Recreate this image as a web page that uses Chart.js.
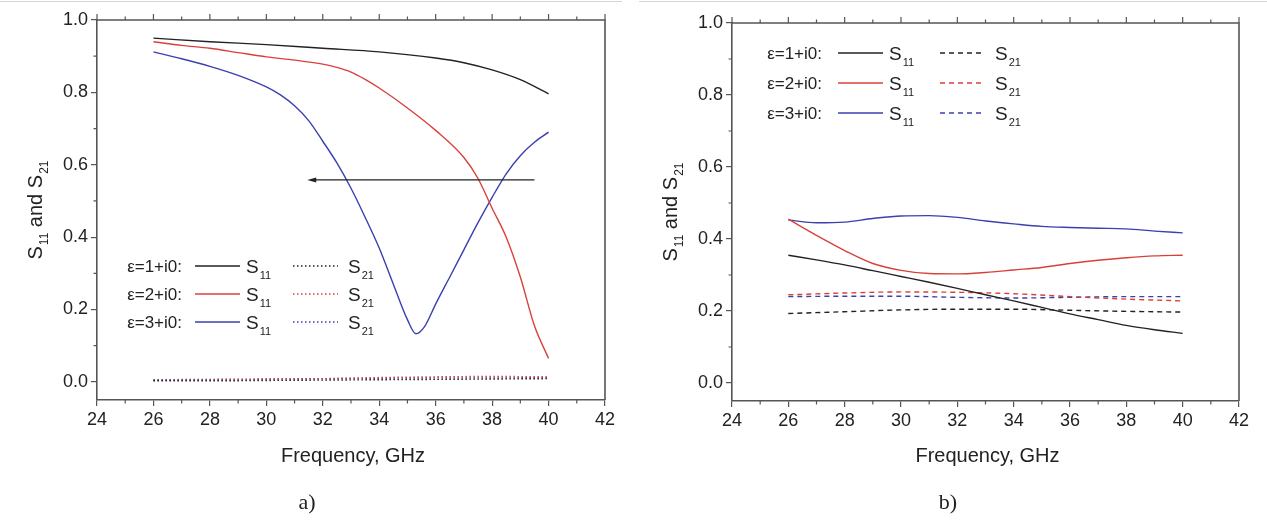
<!DOCTYPE html>
<html>
<head>
<meta charset="utf-8">
<script src="https://cdn.jsdelivr.net/npm/chart.js@4.4.0/dist/chart.umd.min.js"></script>
<style>
html, body { margin: 0; padding: 0; background: #fff; }
body { width: 1267px; height: 523px; position: relative; overflow: hidden; }
.panel { position: absolute; top: 0; height: 523px; }
#pa { left: 0; width: 630px; }
#pb { left: 630px; width: 637px; }
.rule { position: absolute; top: 1px; height: 1px; background: #d6d6d6; }
</style>
</head>
<body>
<div class="rule" style="left:0;width:622px"></div>
<div class="rule" style="left:639px;width:628px"></div>
<div class="panel" id="pa"><canvas id="chartA" width="630" height="523"></canvas></div>
<div class="panel" id="pb"><canvas id="chartB" width="637" height="523"></canvas></div>
<script>
// ---- data ----
const xTicks = [24, 26, 28, 30, 32, 34, 36, 38, 40, 42];
const yTicks = [0.0, 0.2, 0.4, 0.6, 0.8, 1.0];
const legendLabels = ['\u03b5=1+i0:', '\u03b5=2+i0:', '\u03b5=3+i0:'];

// panel a) - S11
const freqA1 = [26, 28, 30, 32, 34, 36, 37, 38, 39, 40];
const s11A1 = [0.95, 0.94, 0.932, 0.922, 0.912, 0.895, 0.882, 0.862, 0.835, 0.796];
const freqA2 = [26, 27, 28, 29, 30, 31, 32, 32.5, 33, 33.5, 34, 35, 36, 37, 37.5, 38, 38.5, 39, 39.5, 40];
const s11A2 = [0.94, 0.93, 0.922, 0.91, 0.898, 0.889, 0.878, 0.869, 0.856, 0.836, 0.812, 0.757, 0.695, 0.62, 0.562, 0.48, 0.40, 0.29, 0.155, 0.065];
const freqA3 = [26, 27, 28, 29, 30, 30.5, 31, 31.5, 32, 32.5, 33, 33.5, 34, 34.5, 35, 35.3, 35.6, 36, 36.5, 37, 37.5, 38, 38.5, 39, 39.5, 40];
const s11A3 = [0.912, 0.893, 0.872, 0.847, 0.815, 0.793, 0.763, 0.722, 0.665, 0.605, 0.535, 0.455, 0.37, 0.27, 0.172, 0.133, 0.152, 0.215, 0.29, 0.365, 0.44, 0.51, 0.575, 0.625, 0.662, 0.69];
// panel a) - S21
const freqS21 = [26, 28, 30, 32, 34, 36, 38, 40];
const s21A1 = [0.003, 0.003, 0.004, 0.005, 0.006, 0.007, 0.008, 0.009];
const s21A2 = [0.004, 0.005, 0.007, 0.009, 0.012, 0.014, 0.015, 0.014];
const s21A3 = [0.006, 0.007, 0.008, 0.009, 0.010, 0.011, 0.011, 0.012];
const arrowFrom = [39.5, 0.558];
const arrowTo = [31.45, 0.558];

// panel b)
const freqB = [26, 27, 28, 29, 30, 31, 32, 33, 34, 35, 36, 37, 38, 39, 40];
const s11B1 = [0.355, 0.342, 0.328, 0.312, 0.296, 0.28, 0.263, 0.245, 0.228, 0.21, 0.192, 0.176, 0.16, 0.148, 0.138];
const s11B2 = [0.455, 0.41, 0.368, 0.332, 0.313, 0.304, 0.303, 0.307, 0.314, 0.321, 0.332, 0.341, 0.348, 0.353, 0.355];
const s11B3 = [0.453, 0.445, 0.447, 0.457, 0.464, 0.465, 0.46, 0.45, 0.442, 0.435, 0.432, 0.43, 0.428, 0.422, 0.417];
const s21B1 = [0.193, 0.198, 0.203, 0.205, 0.205, 0.202, 0.199, 0.197];
const s21B2 = [0.245, 0.25, 0.253, 0.252, 0.248, 0.24, 0.233, 0.228];
const s21B3 = [0.24, 0.241, 0.241, 0.238, 0.236, 0.238, 0.24, 0.24];

// ---- styling ----
const colors = ['#222222', '#d9403c', '#3b3fb0'];
const axisColor = '#555';
const textColor = '#222';
const sans = "'Liberation Sans', Arial, sans-serif";

const pts = (xs, ys) => xs.map((x, i) => ({ x: x, y: ys[i] }));

function line(xs, ys, color, dash) {
    return {
        data: pts(xs, ys),
        showLine: true,
        borderColor: color,
        borderWidth: 1.4,
        borderDash: dash || [],
        pointRadius: 0,
        cubicInterpolationMode: 'monotone',
        fill: false
    };
}

function subText(ctx, main, sub, x, y) {
    ctx.font = '19px ' + sans;
    ctx.textAlign = 'left';
    ctx.fillText(main, x, y);
    const w = ctx.measureText(main).width;
    ctx.font = '11px ' + sans;
    ctx.fillText(sub, x + w + 1, y + 6);
}

const decor = {
    id: 'decor',
    afterDraw(chart, args, o) {
        const ctx = chart.ctx;
        const a = chart.chartArea;
        const xs = chart.scales.x, ys = chart.scales.y;
        ctx.save();
        // top and right frame
        ctx.strokeStyle = axisColor;
        ctx.lineWidth = 1.6;
        ctx.beginPath();
        ctx.moveTo(a.left, a.top);
        ctx.lineTo(a.right, a.top);
        ctx.lineTo(a.right, a.bottom);
        ctx.stroke();
        // ticks on top, minor ticks at bottom and left
        ctx.lineWidth = 1.2;
        ctx.beginPath();
        for (let f = 24; f <= 42; f++) {
            const px = xs.getPixelForValue(f);
            const major = f % 2 === 0;
            ctx.moveTo(px, a.top);
            ctx.lineTo(px, a.top - (major ? 6 : 3.5));
            if (!major) {
                ctx.moveTo(px, a.bottom);
                ctx.lineTo(px, a.bottom + 3.5);
            }
        }
        for (let v = 0.1; v < 1; v += 0.2) {
            const py = ys.getPixelForValue(v);
            ctx.moveTo(a.left, py);
            ctx.lineTo(a.left - 3.5, py);
        }
        ctx.stroke();

        ctx.fillStyle = textColor;
        ctx.textBaseline = 'alphabetic';
        // y title with subscripts, rotated
        ctx.save();
        ctx.translate(a.left - 55, (a.top + a.bottom) / 2);
        ctx.rotate(-Math.PI / 2);
        const parts = [['S', 0], ['11', 1], [' and S', 0], ['21', 1]];
        let total = 0;
        parts.forEach(p => {
            ctx.font = (p[1] ? '12px ' : '20px ') + sans;
            total += ctx.measureText(p[0]).width + (p[1] ? 1 : 0);
        });
        let cx = -total / 2;
        ctx.textAlign = 'left';
        parts.forEach(p => {
            ctx.font = (p[1] ? '12px ' : '20px ') + sans;
            ctx.fillText(p[0], cx + (p[1] ? 1 : 0), p[1] ? 6 : 0);
            cx += ctx.measureText(p[0]).width + (p[1] ? 1 : 0);
        });
        ctx.restore();

        // x title
        ctx.font = '20px ' + sans;
        ctx.textAlign = 'center';
        ctx.textBaseline = 'middle';
        ctx.fillText('Frequency, GHz', (a.left + a.right) / 2 + 2, 456);
        // panel label
        ctx.font = '22px "Liberation Serif", "Times New Roman", serif';
        ctx.fillText(o.tag, o.tagX, 503);

        // legend
        ctx.textBaseline = 'alphabetic';
        legendLabels.forEach((lab, i) => {
            const y = o.legTop + i * o.legGap;
            ctx.fillStyle = textColor;
            ctx.font = '17px ' + sans;
            ctx.textAlign = 'right';
            ctx.fillText(lab, o.labRight, y + 6);
            ctx.strokeStyle = colors[i];
            ctx.lineWidth = 1.4;
            ctx.setLineDash([]);
            ctx.beginPath();
            ctx.moveTo(o.l1, y);
            ctx.lineTo(o.l1 + 45, y);
            ctx.stroke();
            subText(ctx, 'S', '11', o.l1 + 51, y + 7);
            ctx.setLineDash(o.dash);
            ctx.beginPath();
            ctx.moveTo(o.l2, y);
            ctx.lineTo(o.l2 + 45, y);
            ctx.stroke();
            ctx.setLineDash([]);
            subText(ctx, 'S', '21', o.l2 + 55, y + 7);
        });

        // arrow
        if (o.arrow) {
            const x1 = xs.getPixelForValue(arrowFrom[0]), y1 = ys.getPixelForValue(arrowFrom[1]);
            const x2 = xs.getPixelForValue(arrowTo[0]), y2 = ys.getPixelForValue(arrowTo[1]);
            ctx.strokeStyle = '#222';
            ctx.fillStyle = '#222';
            ctx.lineWidth = 1.3;
            ctx.beginPath();
            ctx.moveTo(x1, y1);
            ctx.lineTo(x2 + 4, y2);
            ctx.stroke();
            ctx.beginPath();
            ctx.moveTo(x2, y2);
            ctx.lineTo(x2 + 9, y2 - 2.5);
            ctx.lineTo(x2 + 9, y2 + 2.5);
            ctx.closePath();
            ctx.fill();
        }
        ctx.restore();
    }
};

function options(padTop, padRight, bottomH, yW, deco) {
    return {
        responsive: false,
        animation: false,
        layout: { padding: { top: padTop, right: padRight, left: 0, bottom: 0 } },
        plugins: { legend: { display: false }, tooltip: { enabled: false }, decor: deco },
        scales: {
            x: {
                type: 'linear', min: 24, max: 42,
                afterBuildTicks: s => { s.ticks = xTicks.map(v => ({ value: v })); },
                afterFit: s => { s.height = bottomH; },
                grid: { drawOnChartArea: false, tickLength: 6, color: axisColor, lineWidth: 1.2 },
                border: { color: axisColor, width: 1.6 },
                ticks: { color: textColor, font: { family: sans, size: 18 }, padding: 3, maxRotation: 0, autoSkip: false }
            },
            y: {
                type: 'linear', min: -0.05, max: 1.0,
                afterBuildTicks: s => { s.ticks = yTicks.map(v => ({ value: v })); },
                afterFit: s => { s.width = yW; },
                grid: { drawOnChartArea: false, tickLength: 6, color: axisColor, lineWidth: 1.2 },
                border: { color: axisColor, width: 1.6 },
                ticks: { color: textColor, font: { family: sans, size: 18 }, padding: 3, callback: v => v.toFixed(1) }
            }
        }
    };
}

const dotA = [1.5, 2.5];
const dashB = [5, 4];

new Chart(document.getElementById('chartA'), {
    type: 'scatter',
    data: {
        datasets: [
            line(freqA1, s11A1, colors[0]),
            line(freqA2, s11A2, colors[1]),
            line(freqA3, s11A3, colors[2]),
            line(freqS21, s21A1, colors[0], dotA),
            line(freqS21, s21A2, colors[1], dotA),
            line(freqS21, s21A3, colors[2], dotA)
        ]
    },
    options: options(20, 25, 123, 97, {
        tag: 'a)', tagX: 307, arrow: true, dash: dotA,
        legTop: 266, legGap: 28, labRight: 182, l1: 195, l2: 293
    }),
    plugins: [decor]
});

new Chart(document.getElementById('chartB'), {
    type: 'scatter',
    data: {
        datasets: [
            line(freqB, s11B1, colors[0]),
            line(freqB, s11B2, colors[1]),
            line(freqB, s11B3, colors[2]),
            line(freqS21, s21B1, colors[0], dashB),
            line(freqS21, s21B2, colors[1], dashB),
            line(freqS21, s21B3, colors[2], dashB)
        ]
    },
    options: options(23, 28, 122, 102, {
        tag: 'b)', tagX: 318, arrow: false, dash: dashB,
        legTop: 53, legGap: 30, labRight: 192, l1: 208, l2: 310
    }),
    plugins: [decor]
});
</script>
</body>
</html>
